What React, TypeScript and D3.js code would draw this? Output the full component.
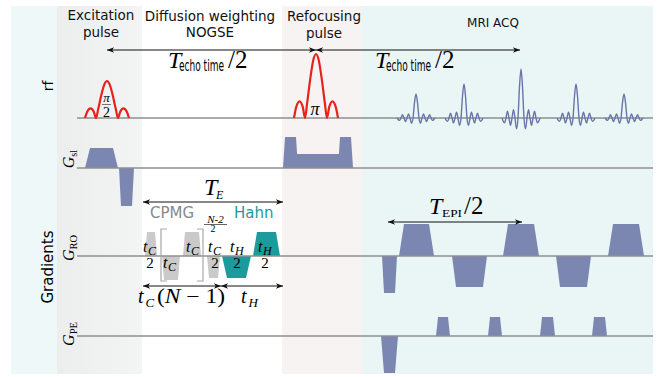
import React from "react";
import * as d3 from "d3";

// time in arbitrary units, 0 = start of the rf line
const rfCenters = [30, 239];
const rfAmps = [37, 64];
const rfHalfWidth = 22;
// |sinc| shape of the red pulses (x in half widths, y normalised)
const sincShape: [number, number][] = [
  [-1, 0], [-0.9, 0.17], [-0.75, 0.26], [-0.6, 0.17], [-0.5, 0],
  [-0.4, 0.24], [-0.25, 0.64], [-0.12, 0.91], [0, 1], [0.12, 0.91],
  [0.25, 0.64], [0.4, 0.24], [0.5, 0], [0.6, 0.17], [0.75, 0.26],
  [0.9, 0.17], [1, 0],
];

const echoCenters = [339, 387, 444, 499, 547];
const echoAmps = [24, 34, 49, 34, 24];
// echo waveform (offset, normalised amplitude)
const echoShape: [number, number][] = [
  [-19, 0], [-16.5, -0.1], [-15, 0], [-13.5, 0.14], [-12, 0], [-10.5, -0.15],
  [-9, 0], [-7.5, 0.17], [-6, 0], [-4.5, -0.22], [-3, 0], [-1.5, 0.64], [0, 1],
  [1.5, 0.64], [3, 0], [4.5, -0.22], [6, 0], [7.5, 0.17], [9, 0], [10.5, -0.15],
  [12, 0], [13.5, 0.14], [15, 0], [16.5, -0.1], [19, 0],
];

// gradient lobes: [start, end, ramp, amplitude]
const gSlice = [[8, 41, 5, 20], [42, 57, 2, -38], [219, 263, 0, 14], [206, 221, 2, 31], [261, 276, 2, 31]];
const gReadCpmg = [[68, 80, 2, 24], [85, 103, 2, -24], [106, 124, 2, 24], [130, 143, 2, -22]];
const gReadHahn = [[145, 174, 5, -22], [176, 203, 4, 24]];
const gReadEpi = [[305, 320, 2, -37], [322, 357, 5, 32], [375, 410, 4, -31], [426, 462, 5, 32], [479, 514, 4, -31], [531, 567, 5, 32]];
const gPhase = [[304, 321, 3, -37], [359, 373, 2, 19], [411, 425, 2, 19], [463, 478, 2, 19], [515, 530, 2, 19]];

const SANS = "DejaVu Sans, sans-serif";
const SERIF = "Liberation Serif, serif";
const BLUE = "#7b87b1";
const TEAL = "#1b9b9b";
const CPMG = "#cacaca";

export default function App() {
  const x = d3.scaleLinear().domain([0, 576]).range([77, 653]);
  const amp = d3.scaleLinear().domain([-40, 40]).range([40, -40]);
  const base = { rf: 118, sl: 168, ro: 256, pe: 336 };

  const trap = (g: number[], b: number) => {
    const [s, e, r, a] = g;
    const pts: [number, number][] = [[s, 0], [s + r, a], [e - r, a], [e, 0]];
    return d3.line<[number, number]>().x(d => x(d[0])).y(d => b + amp(d[1]))(pts) + "Z";
  };
  const pulse = (c: number, a: number) =>
    d3.line<[number, number]>().curve(d3.curveMonotoneX)
      .x(d => x(c + d[0] * rfHalfWidth)).y(d => base.rf + amp(d[1] * a))(sincShape);
  const echo = (c: number, a: number) =>
    d3.line<[number, number]>().curve(d3.curveMonotoneX)
      .x(d => x(c + d[0])).y(d => base.rf + amp(d[1] * a))(echoShape);

  const arrow = (x1: number, x2: number, y: number) => (
    <line x1={x1} x2={x2} y1={y} y2={y} stroke="#111" strokeWidth={1}
      markerStart="url(#ah)" markerEnd="url(#ah)" />
  );
  const techo = (x0: number) => (
    <g>
      <text x={x0} y={68} fontFamily={SERIF} fontStyle="italic" fontSize={24}>T</text>
      <text x={x0 + 11} y={71} fontFamily={SANS} fontSize={15} textLength={45} lengthAdjust="spacingAndGlyphs">echo time</text>
      <text x={x0 + 60} y={68} fontFamily={SERIF} fontSize={25}>/2</text>
    </g>
  );
  const tsub = (x0: number, y0: number, sub: string, half: boolean, cx?: number) => (
    <g>
      <text x={x0} y={y0} fontFamily={SERIF} fontStyle="italic" fontSize={16}>t</text>
      <text x={x0 + 5} y={y0 + 3} fontFamily={SERIF} fontStyle="italic" fontSize={12}>{sub}</text>
      {half && <text x={cx} y={268} textAnchor="middle" fontFamily={SERIF} fontSize={15}>2</text>}
    </g>
  );
  const gLabel = (cx: number, cy: number, sub: string) => (
    <text transform={`translate(${cx},${cy}) rotate(-90)`} textAnchor="middle" fontFamily={SERIF}>
      <tspan fontStyle="italic" fontSize={16}>G</tspan>
      <tspan fontSize={10.5} dy={3}>{sub}</tspan>
    </text>
  );

  return (
    <svg width={660} height={377} style={{ position: "absolute", left: 0, top: 0 }}>
      <defs>
        <marker id="ah" viewBox="0 0 10 10" refX={10} refY={5} markerWidth={7} markerHeight={7} orient="auto-start-reverse">
          <path d="M0,1 L10,5 L0,9 L2.5,5 z" fill="#111" />
        </marker>
        <linearGradient id="exg" x1="0" x2="1" y1="0" y2="0">
          <stop offset="0" stopColor="#eceeee" />
          <stop offset="1" stopColor="#f3f4f4" />
        </linearGradient>
      </defs>

      {/* phase backgrounds */}
      <rect x={x(-66)} y={6} width={x(-20) - x(-66)} height={368} fill="#eef8f8" />
      <rect x={x(-20)} y={6} width={x(65) - x(-20)} height={368} fill="url(#exg)" />
      <rect x={x(205)} y={6} width={x(285) - x(205)} height={368} fill="#f8f3f3" />
      <rect x={x(285)} y={6} width={x(576) - x(285)} height={368} fill="#eaf6f6" />

      {/* headers */}
      <g fontFamily={SANS} fontSize={13.5} textAnchor="middle" fill="#111">
        <text x={x(24)} y={20}>Excitation</text>
        <text x={x(24)} y={37}>pulse</text>
        <text x={x(133)} y={21}>Diffusion weighting</text>
        <text x={x(133)} y={37}>NOGSE</text>
        <text x={x(247)} y={21}>Refocusing</text>
        <text x={x(247)} y={38}>pulse</text>
        <text x={x(416)} y={27} fontSize={12}>MRI ACQ</text>
      </g>

      {/* echo-time arrows */}
      {arrow(x(30), x(239), 50)}
      {arrow(x(239), x(443), 50)}
      {techo(168)}
      {techo(375)}

      {/* gradient lobes */}
      {gSlice.map((g, i) => <path key={"s" + i} d={trap(g, base.sl)} fill={BLUE} />)}
      {gReadCpmg.map((g, i) => <path key={"c" + i} d={trap(g, base.ro)} fill={CPMG} />)}
      {gReadHahn.map((g, i) => <path key={"h" + i} d={trap(g, base.ro)} fill={TEAL} />)}
      {gReadEpi.map((g, i) => <path key={"e" + i} d={trap(g, base.ro)} fill={BLUE} />)}
      {gPhase.map((g, i) => <path key={"p" + i} d={trap(g, base.pe)} fill={BLUE} />)}

      {/* baselines */}
      {[base.rf, base.sl, base.ro, base.pe].map(b => (
        <line key={b} x1={x(0)} x2={x(576)} y1={b} y2={b} stroke="#8f8f8f" strokeWidth={1.5} />
      ))}

      {/* rf */}
      {rfCenters.map((c, i) => (
        <path key={"rf" + i} d={pulse(c, rfAmps[i]) ?? ""} fill="none" stroke="#e5231b" strokeWidth={2.2} />
      ))}
      {echoCenters.map((c, i) => (
        <path key={"ec" + i} d={echo(c, echoAmps[i]) ?? ""} fill="none" stroke="#6a74a8" strokeWidth={1.4} />
      ))}
      <text x={106.5} y={102} textAnchor="middle" fontFamily={SERIF} fontStyle="italic" fontSize={13}>π</text>
      <line x1={102} x2={111} y1={104.5} y2={104.5} stroke="#555" strokeWidth={0.8} />
      <text x={106.5} y={117} textAnchor="middle" fontFamily={SERIF} fontSize={14}>2</text>
      <text x={315} y={115} textAnchor="middle" fontFamily={SERIF} fontStyle="italic" fontSize={18}>π</text>

      {/* T_E and NOGSE annotations */}
      {arrow(x(66), x(206), 202)}
      <text x={204} y={195} fontFamily={SERIF} fontStyle="italic" fontSize={24}>T</text>
      <text x={216} y={199} fontFamily={SERIF} fontStyle="italic" fontSize={12}>E</text>
      <text x={150} y={218} fontFamily={SANS} fontSize={15} fill="#888">CPMG</text>
      <text x={234} y={218} fontFamily={SANS} fontSize={15} fill={TEAL}>Hahn</text>
      <text x={215.5} y={223} textAnchor="middle" fontFamily={SERIF} fontStyle="italic" fontSize={11}>N-2</text>
      <line x1={204} x2={227} y1={224.5} y2={224.5} stroke="#222" strokeWidth={0.7} />
      <text x={213} y={232} textAnchor="middle" fontFamily={SERIF} fontSize={10}>2</text>
      <path d="M167,229 H161 V281 H167" fill="none" stroke="#a8a8a8" strokeWidth={1.2} />
      <path d="M197,229 H203 V281 H197" fill="none" stroke="#a8a8a8" strokeWidth={1.2} />
      {tsub(143, 252, "C", true, 150)}
      {tsub(163, 268, "C", false)}
      {tsub(186, 252, "C", false)}
      {tsub(208, 252, "C", true, 215)}
      {tsub(230, 252, "H", true, 237)}
      {tsub(258, 252, "H", true, 265)}
      {arrow(x(66), x(144), 286)}
      {arrow(x(144), x(206), 286)}
      <text x={138} y={303} fontFamily={SERIF} fontStyle="italic" fontSize={20}>t</text>
      <text x={145.5} y={307} fontFamily={SERIF} fontStyle="italic" fontSize={13}>C</text>
      <text x={157} y={303} fontFamily={SERIF} fontSize={20} textLength={68} lengthAdjust="spacingAndGlyphs">
        (<tspan fontStyle="italic">N</tspan> − 1)
      </text>
      <text x={241} y={303} fontFamily={SERIF} fontStyle="italic" fontSize={20}>t</text>
      <text x={248.5} y={307} fontFamily={SERIF} fontStyle="italic" fontSize={13}>H</text>

      {/* EPI annotation */}
      {arrow(x(311), x(445), 222)}
      <text x={429} y={214} fontFamily={SERIF} fontStyle="italic" fontSize={24}>T</text>
      <text x={442} y={217} fontFamily={SERIF} fontSize={10} textLength={20} lengthAdjust="spacingAndGlyphs">EPI</text>
      <text x={464} y={214} fontFamily={SERIF} fontSize={25}>/2</text>

      {/* channel labels */}
      <text transform="translate(53,86) rotate(-90)" textAnchor="middle" fontFamily={SANS} fontSize={14}>rf</text>
      <text transform="translate(53,267) rotate(-90)" textAnchor="middle" fontFamily={SANS} fontSize={15}>Gradients</text>
      {gLabel(74, 159, "sl")}
      {gLabel(74, 248, "RO")}
      {gLabel(74, 334, "PE")}
    </svg>
  );
}
